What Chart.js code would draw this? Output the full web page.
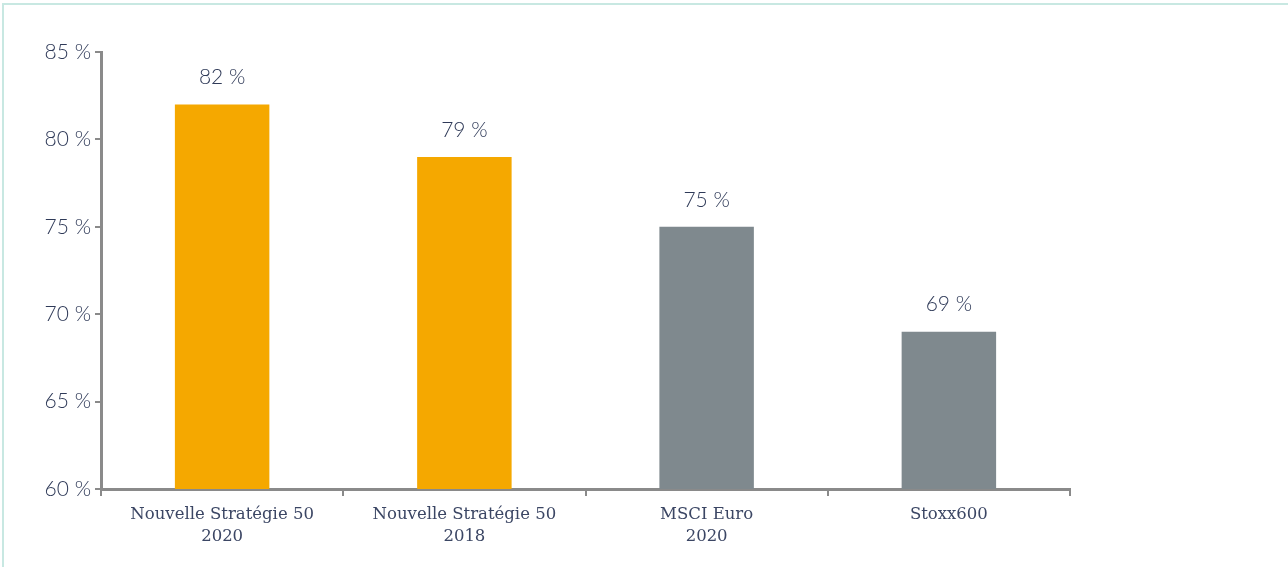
<!DOCTYPE html>
<html>
<head>
<meta charset="utf-8">
<script src="https://cdn.jsdelivr.net/npm/chart.js@4/dist/chart.umd.min.js"></script>
<style>
html,body{margin:0;padding:0;background:#fff;overflow:hidden;}
#wrap{position:relative;width:1288px;height:567px;}
#frame{position:absolute;left:2px;top:3px;width:1300px;height:600px;border-top:2px solid #c8e8e2;border-left:2px solid #c8e8e2;pointer-events:none;}
canvas{position:absolute;left:0;top:0;}
</style>
</head>
<body>
<div id="wrap">
<canvas id="c" width="1288" height="567"></canvas>
<div id="frame"></div>
</div>
<script>
const categories = [["Nouvelle Stratégie 50","2020"],["Nouvelle Stratégie 50","2018"],["MSCI Euro","2020"],"Stoxx600"];
const values = [82, 79, 75, 69];
const barColors = ["#f5a800","#f5a800","#7f898e","#7f898e"];
const yTicks = [60, 65, 70, 75, 80, 85];

const textColor = "#2f3a58";
const axisColor = "#8a8a8a";

const valueLabels = {
  id: "valueLabels",
  afterDatasetsDraw(chart) {
    const ctx = chart.ctx;
    const meta = chart.getDatasetMeta(0);
    ctx.save();
    ctx.font = "300 21px Lato";
    ctx.fillStyle = textColor;
    ctx.textAlign = "center";
    ctx.textBaseline = "middle";
    meta.data.forEach((bar, i) => {
      ctx.fillText(values[i] + " %", bar.x, bar.y - 27);
    });
    ctx.restore();
  }
};

new Chart(document.getElementById("c"), {
  type: "bar",
  data: {
    labels: categories,
    datasets: [{
      data: values,
      backgroundColor: barColors,
      borderWidth: 0,
      barPercentage: 0.39,
      categoryPercentage: 1
    }]
  },
  options: {
    responsive: false,
    animation: false,
    events: [],
    layout: { padding: { left: 0, right: 218, top: 52, bottom: 0 } },
    plugins: { legend: { display: false }, tooltip: { enabled: false } },
    scales: {
      x: {
        grid: { display: true, drawOnChartArea: false, drawTicks: true, tickLength: 7, color: axisColor, lineWidth: 2, offset: true },
        border: { display: true, color: axisColor, width: 3 },
        ticks: { color: "#3b4664", font: { family: "DejaVu Serif", size: 16.5, lineHeight: 1.33 }, padding: 8, maxRotation: 0, autoSkip: false },
        afterFit(s) { s.height = 78; }
      },
      y: {
        min: 60, max: 85,
        afterBuildTicks(s) { s.ticks = yTicks.map(v => ({ value: v })); },
        grid: { display: true, drawOnChartArea: false, drawTicks: true, tickLength: 6, color: axisColor, lineWidth: 2 },
        border: { display: true, color: axisColor, width: 3 },
        ticks: { color: textColor, font: { family: "Lato", weight: 300, size: 21 }, padding: 4, callback: v => v + " %" },
        afterFit(s) { s.width = 101; }
      }
    }
  },
  plugins: [valueLabels]
});
</script>
</body>
</html>
